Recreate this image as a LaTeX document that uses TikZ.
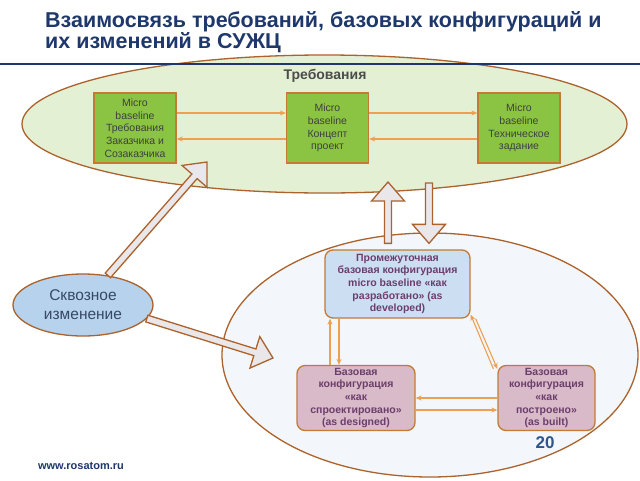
\documentclass[tikz,border=0pt]{standalone}
\usepackage{fontspec}
\setmainfont{Liberation Sans}
\usetikzlibrary{shapes.geometric,arrows.meta,calc}
\definecolor{rosatomNavy}{RGB}{31,56,108}
\definecolor{ellipseBrown}{RGB}{172,98,44}
\definecolor{reqFill}{RGB}{228,240,212}
\definecolor{designFill}{RGB}{243,247,251}
\definecolor{greenBox}{RGB}{138,196,66}
\definecolor{boxBorder}{RGB}{196,122,52}
\definecolor{flowOrange}{RGB}{238,160,82}
\definecolor{changeBlue}{RGB}{182,210,236}
\definecolor{changeText}{RGB}{55,72,100}
\definecolor{devBlue}{RGB}{204,222,242}
\definecolor{pinkBox}{RGB}{216,186,200}
\definecolor{boxText}{RGB}{108,62,108}
\definecolor{arrowGray}{RGB}{234,231,234}
\definecolor{pageBlue}{RGB}{46,86,140}

% wide arrow from #1 to #2
\newcommand{\bigArrow}[2]{%
  \path let \p1=(#1), \p2=(#2) in \pgfextra{%
    \pgfmathsetmacro\arrAngle{atan2(\y2-\y1,\x2-\x1)}%
    \pgfmathsetmacro\arrLength{veclen(\x2-\x1,\y2-\y1)}%
    \global\let\arrAngle\arrAngle \global\let\arrLength\arrLength};
  \begin{scope}[shift={(#1)}, rotate=\arrAngle]
    \draw[blockarrow] (0,-3.5) -- (\arrLength-19,-3.5) -- (\arrLength-19,-16.5) -- (\arrLength,0)
      -- (\arrLength-19,16.5) -- (\arrLength-19,3.5) -- (0,3.5) -- cycle;
  \end{scope}}

\begin{document}
\begin{tikzpicture}[x=1pt, y=-1pt,
    microbox/.style={draw=boxBorder, line width=1.3pt, fill=greenBox, text=black!75, minimum width=82pt,
      minimum height=70pt, align=center, inner sep=1pt, font=\fontsize{10.5}{12.7}\selectfont},
    basebox/.style={draw=boxBorder, line width=1.3pt, rounded corners=8pt, text=boxText, align=center,
      inner sep=1pt, font=\bfseries\fontsize{10.5}{12.7}\selectfont},
    flow/.style={-{Stealth[length=6pt,width=5pt]}, flowOrange, line width=1.1pt},
    blockarrow/.style={draw=ellipseBrown, fill=arrowGray, line width=1.3pt, line join=miter}]
  \fill[white] (0,0) rectangle (640,480);
  \useasboundingbox (0,0) rectangle (640,480);

  % Areas
  \node[ellipse, draw=ellipseBrown, fill=reqFill, line width=1.3pt, minimum width=605pt, minimum height=138pt, inner sep=0] (reqs) at (324.5,124) {};
  \node[ellipse, draw=ellipseBrown, fill=designFill, line width=1.3pt, minimum width=416pt, minimum height=244pt, inner sep=0] (design) at (430,355) {};
  \draw[rosatomNavy, line width=2pt] (0,64) -- (640,64);

  % Title
  \node[anchor=north west, inner sep=0, align=left, text=rosatomNavy, font=\bfseries\fontsize{21.5}{21.5}\selectfont] (title) at (45,11)
    {Взаимосвязь требований, базовых конфигураций и\\их изменений в СУЖЦ};
  \node[font=\bfseries\fontsize{14}{16}\selectfont, text=black!70] (reqLabel) at (325,76) {Требования};

  % Requirements baselines
  \node[microbox] (reqCustomer) at (135,128) {Micro\\baseline\\Требования\\Заказчика и\\Созаказчика};
  \node[microbox] (reqConcept) at (327.5,128) {Micro\\baseline\\Концепт\\проект};
  \node[microbox] (reqTech) at (519,128) {Micro\\baseline\\Техническое\\задание};

  \draw[flow] ([yshift=15pt]reqCustomer.east) -- ([yshift=15pt]reqConcept.west);
  \draw[flow] ([yshift=15pt]reqConcept.east) -- ([yshift=15pt]reqTech.west);
  \draw[flow] ([yshift=-11pt]reqConcept.west) -- ([yshift=-11pt]reqCustomer.east);
  \draw[flow] ([yshift=-11pt]reqTech.west) -- ([yshift=-11pt]reqConcept.east);

  % Configurations
  \node[basebox, fill=devBlue, minimum width=145pt, minimum height=68pt] (asDeveloped) at (397.5,284)
    {Промежуточная\\базовая конфигурация\\micro baseline «как\\разработано» (as\\developed)};
  \node[basebox, fill=pinkBox, minimum width=118pt, minimum height=65pt] (asDesigned) at (356,398)
    {Базовая\\конфигурация\\«как\\спроектировано»\\(as designed)};
  \node[basebox, fill=pinkBox, minimum width=97pt, minimum height=65pt] (asBuilt) at (546.5,398)
    {Базовая\\конфигурация\\«как\\построено»\\(as built)};

  \draw[flow] ([xshift=-26pt]asDesigned.north) -- ([xshift=-26pt]asDesigned.north |- asDeveloped.south);
  \draw[flow] ([xshift=-17pt]asDesigned.north |- asDeveloped.south) -- ([xshift=-17pt]asDesigned.north);
  \draw[flow] (asBuilt.west) -- (asDesigned.east);
  \draw[flow] ([yshift=-12pt]asDesigned.east) -- ([yshift=-12pt]asBuilt.west);
  \draw[flow] ([xshift=-4pt,yshift=-4pt]asBuilt.north west) -- ([yshift=4pt]asDeveloped.south east);
  \draw[flow] ([xshift=5pt]asDeveloped.south east) -- ([yshift=-4pt]asBuilt.north west);

  % Change
  \node[ellipse, draw=ellipseBrown, fill=changeBlue, line width=1.3pt, minimum width=140pt, minimum height=62pt,
    inner sep=0, align=center, text=changeText, font=\fontsize{15.5}{19}\selectfont] (change) at (83,305)
    {Сквозное\\изменение};

  \coordinate (reqTip) at (207,162);
  \coordinate (designTip) at (273,358);
  \coordinate (upTip) at (388,182);
  \coordinate (downStart) at (429,183);
  \bigArrow{change.50}{reqTip}
  \bigArrow{change.-12}{designTip}
  \bigArrow{[xshift=-9.5pt,yshift=6pt]asDeveloped.north}{upTip}
  \bigArrow{downStart}{[xshift=31.5pt,yshift=6pt]asDeveloped.north}

  % Footer
  \node[font=\bfseries\fontsize{17}{20}\selectfont, text=pageBlue] (pageNo) at (545,443) {20};
  \node[font=\bfseries\fontsize{11}{13}\selectfont, text=rosatomNavy] (site) at (81,466) {www.rosatom.ru};
\end{tikzpicture}
\end{document}
